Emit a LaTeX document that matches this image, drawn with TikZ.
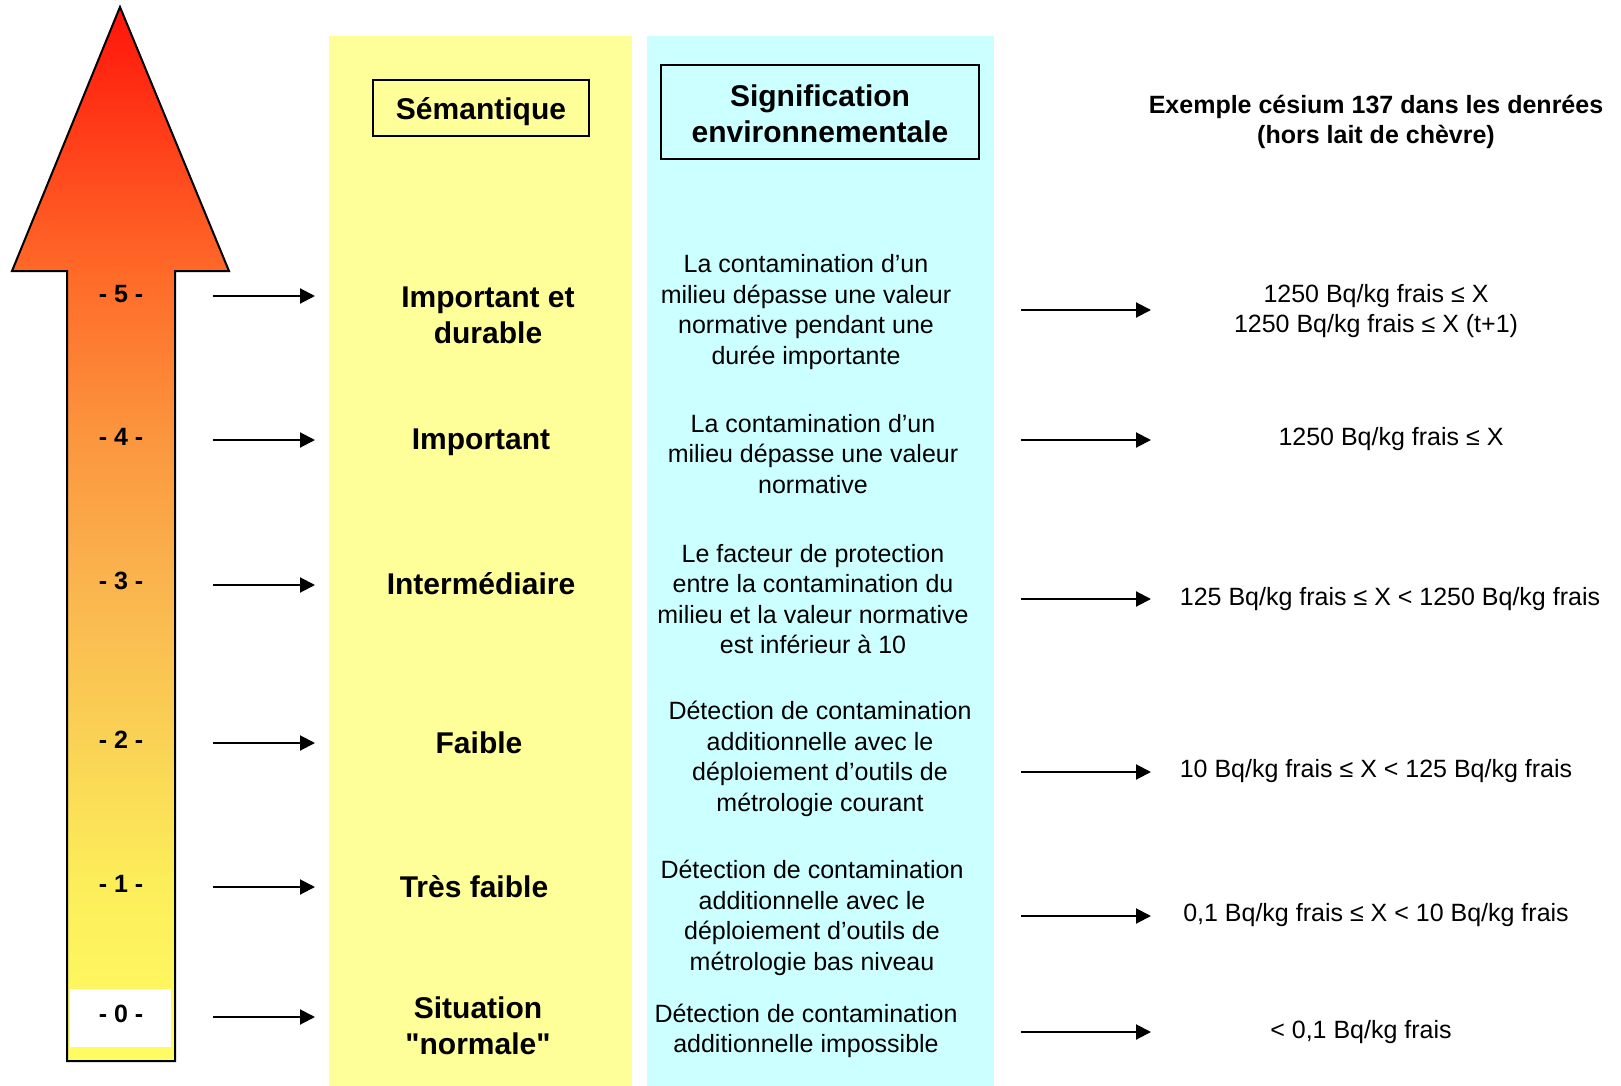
\documentclass[tikz,border=0pt]{standalone}
\usepackage{fontspec}
\setmainfont{Liberation Sans}
\usetikzlibrary{arrows.meta}
\definecolor{colY}{RGB}{255,255,153}
\definecolor{colC}{RGB}{204,255,255}
\definecolor{g0}{RGB}{255,20,10}
\definecolor{g1}{RGB}{255,105,40}
\definecolor{g2}{RGB}{251,150,62}
\definecolor{g3}{RGB}{250,180,78}
\definecolor{g4}{RGB}{250,210,85}
\definecolor{g5}{RGB}{252,238,90}
\definecolor{g6}{RGB}{255,252,100}
\tikzset{
  arr/.style={line width=2pt, -{Triangle[length=15pt,width=15pt]}},
  reg/.style={font=\fontsize{25}{30.5}\selectfont, align=center, inner sep=0pt},
  sem/.style={font=\bfseries\fontsize{30}{36}\selectfont, align=center, inner sep=0pt},
  hdr/.style={font=\bfseries\fontsize{25}{30}\selectfont, align=center, inner sep=0pt},
  lvl/.style={font=\bfseries\fontsize{25}{30}\selectfont, inner sep=0pt}
}
\begin{document}
\begin{tikzpicture}[x=1pt,y=-1pt]
\useasboundingbox (0,0) rectangle (1621,1086);
% columns
\fill[colY] (329,36) rectangle (632,1086);
\fill[colC] (647,36) rectangle (994,1086);
% big arrow
\begin{scope}
\clip (120,7) -- (229,271) -- (175,271) -- (175,1061) -- (67,1061) -- (67,271) -- (12,271) -- cycle;
\shade[top color=g0,bottom color=g1] (0,6) rectangle (240,271);
\shade[top color=g1,bottom color=g2] (0,270) rectangle (240,438);
\shade[top color=g2,bottom color=g3] (0,437) rectangle (240,582);
\shade[top color=g3,bottom color=g4] (0,581) rectangle (240,741);
\shade[top color=g4,bottom color=g5] (0,740) rectangle (240,885);
\shade[top color=g5,bottom color=g6] (0,884) rectangle (240,1062);
\fill[white] (70,989) rectangle (171,1047);
\end{scope}
\draw[line width=2pt, line join=miter] (120,7) -- (229,271) -- (175,271) -- (175,1061) -- (67,1061) -- (67,271) -- (12,271) -- cycle;
% level labels
\node[lvl] (l5) at (121,294) {- 5 -};
\node[lvl] (l4) at (121,437) {- 4 -};
\node[lvl] (l3) at (121,581) {- 3 -};
\node[lvl] (l2) at (121,740) {- 2 -};
\node[lvl] (l1) at (121,884) {- 1 -};
\node[lvl] (l0) at (121,1014) {- 0 -};
% headers
\draw[line width=2pt] (373,80) rectangle (589,136);
\node[sem] (hsem) at (481,112) {Sémantique};
\draw[line width=2pt] (661,65) rectangle (979,159);
\node[sem] (hsig) at (820,114) {Signification\\environnementale};
\node[hdr] (hex) at (1376,122) {Exemple césium 137 dans les denrées\\(hors lait de chèvre)};
% semantic column
\node[sem] (s5) at (488,315) {Important et\\durable};
\node[sem] (s4) at (481,442) {Important};
\node[sem] (s3) at (481,584) {Intermédiaire};
\node[sem] (s2) at (479,743) {Faible};
\node[sem] (s1) at (474,887) {Très faible};
\node[sem] (s0) at (478,1026) {Situation\\{\addfontfeatures{Ligatures=TeXOff}"normale"}};
% signification column
\node[reg] (c5) at (806,312) {La contamination d’un\\milieu dépasse une valeur\\normative pendant une\\durée importante};
\node[reg] (c4) at (813,454) {La contamination d’un\\milieu dépasse une valeur\\normative};
\node[reg] (c3) at (813,599) {Le facteur de protection\\entre la contamination du\\milieu et la valeur normative\\est inférieur à 10};
\node[reg] (c2) at (820,759) {Détection de contamination\\additionnelle avec le\\déploiement d’outils de\\métrologie courant};
\node[reg] (c1) at (812,918) {Détection de contamination\\additionnelle avec le\\déploiement d’outils de\\métrologie bas niveau};
\node[reg] (c0) at (806,1031) {Détection de contamination\\additionnelle impossible};
% example column
\node[reg] (r5) at (1376,311) {1250 Bq/kg frais ≤ X\\1250 Bq/kg frais ≤ X (t+1)};
\node[reg] (r4) at (1391,439) {1250 Bq/kg frais ≤ X};
\node[reg] (r3) at (1390,599) {125 Bq/kg frais ≤ X < 1250 Bq/kg frais};
\node[reg] (r2) at (1376,771) {10 Bq/kg frais ≤ X < 125 Bq/kg frais};
\node[reg] (r1) at (1376,915) {0,1 Bq/kg frais ≤ X < 10 Bq/kg frais};
\node[reg] (r0) at (1361,1032) {< 0,1 Bq/kg frais};
% left arrows
\foreach \n/\y in {5/296,4/440,3/585,2/743,1/887,0/1017}{
  \coordinate (la\n s) at (213,\y);
  \coordinate (la\n e) at (315,\y);
  \draw[arr] (la\n s) -- (la\n e);
}
% right arrows
\foreach \n/\y in {5/310,4/440,3/599,2/772,1/916,0/1032}{
  \coordinate (ra\n s) at (1021,\y);
  \coordinate (ra\n e) at (1151,\y);
  \draw[arr] (ra\n s) -- (ra\n e);
}
\end{tikzpicture}
\end{document}
